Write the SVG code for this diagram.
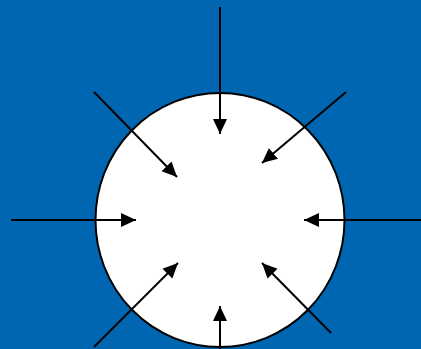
<svg xmlns="http://www.w3.org/2000/svg" width="421" height="349" viewBox="0 0 421 349">
<defs>
<marker id="ah" markerUnits="userSpaceOnUse" markerWidth="16" markerHeight="16" viewBox="0 0 16 16" refX="15" refY="8" orient="auto">
<path d="M0,1 L15,8 L0,15 Z" fill="#000"/>
</marker>
<style>
.c{stroke:#000;stroke-width:2;fill:none;marker-end:url(#ah)}
</style>
</defs>
<rect x="0" y="0" width="421" height="349" fill="#0066b1"/>
<g id="circle">
<ellipse cx="220" cy="220" rx="124.5" ry="127" fill="#fff" stroke="#000" stroke-width="2"/>
</g>
<g id="connectors">
<line class="c" x1="220" y1="7" x2="220" y2="134"/>
<line class="c" x1="94" y1="92" x2="177" y2="177"/>
<line class="c" x1="346" y1="92" x2="262" y2="163"/>
<line class="c" x1="11" y1="220" x2="136" y2="220"/>
<line class="c" x1="421" y1="220" x2="304" y2="220"/>
<line class="c" x1="94" y1="347" x2="178" y2="263"/>
<line class="c" x1="220" y1="349" x2="220" y2="306"/>
<line class="c" x1="331" y1="333" x2="262" y2="263"/>
</g>
</svg>
